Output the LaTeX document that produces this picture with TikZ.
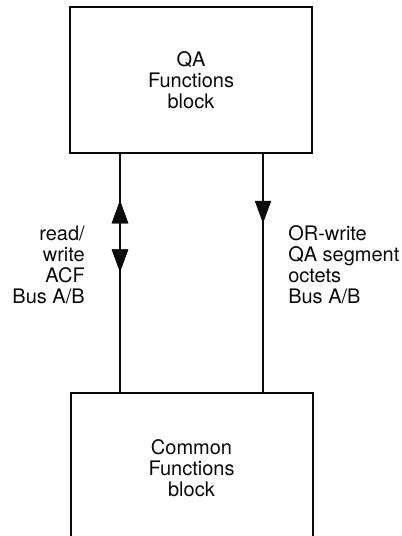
\documentclass[tikz,border=0pt]{standalone}
\usepackage{fontspec}
\setmainfont{TeX Gyre Heros}
\usetikzlibrary{arrows.meta,positioning,decorations.markings}
\definecolor{Ink}{RGB}{10,10,10}
\tikzset{
  >=Latex,
  blockbox/.style={draw=Ink,line width=1.5pt,fill=white,align=center,text=Ink,font=\fontsize{15}{15.8}\selectfont,minimum width=181.5pt,inner sep=0pt},
  buslabel/.style={text=Ink,font=\fontsize{15}{15.8}\selectfont,inner sep=0pt},
  bus/.style={draw=Ink,line width=1.5pt},
  uptip/.style={postaction={decorate},decoration={markings,mark=at position #1 with {\arrow{Triangle[length=17pt,width=12pt]}}}},
  downtip/.style={postaction={decorate},decoration={markings,mark=at position #1 with {\arrowreversed{Triangle[length=17pt,width=12pt]}}}}
}

\begin{document}
\begin{tikzpicture}[x=0.75pt,y=0.75pt]
  \useasboundingbox (0,0) rectangle (401,536);
  \clip (0,0) rectangle (401,536);
  \node[blockbox,minimum height=109.5pt] (qa) at (191,456) {QA\\Functions\\block};
  \node[blockbox,minimum height=112.5pt] (cf) at (191.5,68) {Common\\Functions\\block};
  \coordinate (lx) at (120,0);
  \coordinate (rx) at (263,0);
  % bus lines between the two blocks
  \draw[bus,uptip=0.804,downtip=0.504] (cf.north -| lx) -- (qa.south -| lx);
  \draw[bus,uptip=0.292] (qa.south -| rx) -- (cf.north -| rx);
  \node[buslabel,align=right,anchor=east] (rwlabel) at (85,271) {read/\\write\\ACF\\Bus A/B};
  \node[buslabel,align=left,anchor=west] (orlabel) at (288,271) {OR-write\\QA segment\\octets\\Bus A/B};
\end{tikzpicture}
\end{document}
